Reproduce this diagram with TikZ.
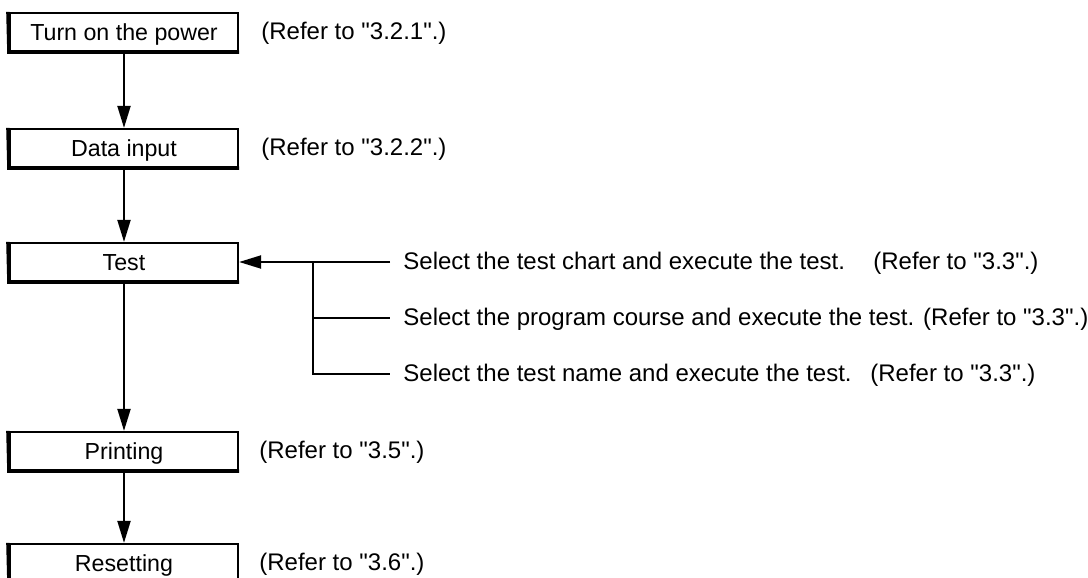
\documentclass[tikz,border=0pt]{standalone}
\usepackage{fontspec}
\setmainfont{Liberation Sans}[Ligatures=TeXOff]
\usetikzlibrary{arrows.meta}
\newcommand{\PxUnit}{0.5pt}
\newcommand{\FlowFont}{\fontsize{11.6}{14}\selectfont}
\newcommand{\RefFont}{\fontsize{12}{14}\selectfont}
\colorlet{FlowColor}{black}
\tikzset{
	flowbox/.style={draw=FlowColor, line width=1.1pt, minimum width=114pt, minimum height=19pt, inner sep=0pt, text height=8.3pt, text depth=0pt, font=\FlowFont},
	flowline/.style={draw=FlowColor, line width=1pt},
	flowarrow/.style={flowline, -{Triangle[length=11pt, width=6.5pt]}},
	reftext/.style={anchor=west, inner sep=0pt, text height=8.6pt, text depth=0pt, font=\RefFont},
}

\begin{document}
\begin{tikzpicture}[x=\PxUnit, y=-\PxUnit]
	\clip (0,0) rectangle (1088,578);
	
	% steps
	\node[flowbox] (power) at (124,32) {Turn on the power};
	\node[flowbox] (input) at (124,148) {Data input};
	\node[flowbox] (test) at (124,262) {Test};
	\node[flowbox] (print) at (124,451) {Printing};
	\node[flowbox] (reset) at (124,563) {Resetting};
	
	\foreach \b in {power,input,test,print,reset}{
		\draw[line width=1.7pt] ([xshift=-0.5pt]\b.north west) -- (\b.south west) -- (\b.south east);
	}
	
	\foreach \a/\b in {power/input, input/test, test/print, print/reset}{
		\draw[flowarrow] (\a) -- (\b);
	}
	
	% references
	\node[reftext] (powerRef) at (261,31) {(Refer to "3.2.1".)};
	\node[reftext] (inputRef) at (261,147) {(Refer to "3.2.2".)};
	\node[reftext] (printRef) at (259,450) {(Refer to "3.5".)};
	\node[reftext] (resetRef) at (259,562) {(Refer to "3.6".)};
	
	% test options
	\coordinate (fork) at (313,262);
	\coordinate (chart) at (390,262);
	\coordinate (course) at (390,318);
	\coordinate (name) at (390,374);
	
	\draw[flowarrow] (chart) -- (test);
	\draw[flowline] (fork) |- (course);
	\draw[flowline] (fork) |- (name);
	
	\node[reftext] (chartText) at (403,261) {Select the test chart and execute the test.};
	\node[reftext] (chartRef) at (873,261) {(Refer to "3.3".)};
	\node[reftext] (courseText) at (403,317) {Select the program course and execute the test. (Refer to "3.3".)};
	\node[reftext] (nameText) at (403,373) {Select the test name and execute the test.};
	\node[reftext] (nameRef) at (870,373) {(Refer to "3.3".)};
\end{tikzpicture}
\end{document}
